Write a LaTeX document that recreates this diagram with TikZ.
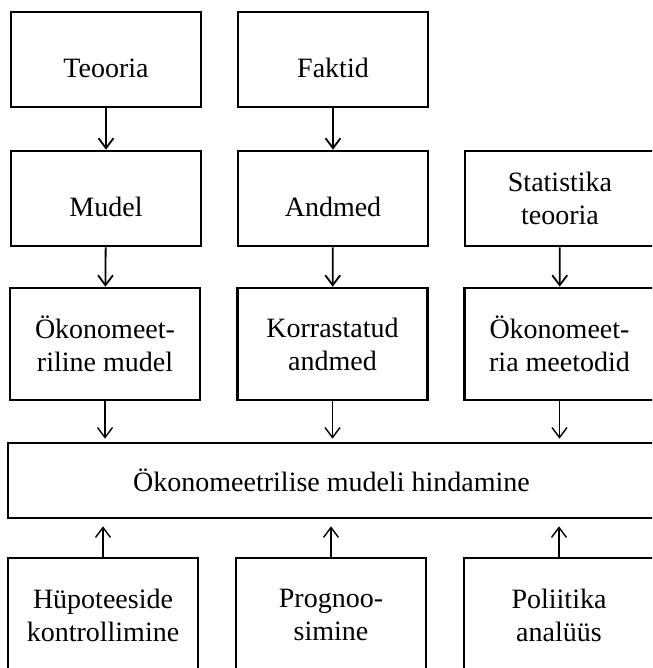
\documentclass[tikz,border=0pt]{standalone}
\usepackage{fontspec}
\setmainfont{Liberation Serif}
\usetikzlibrary{arrows.meta}

\begin{document}
\begin{tikzpicture}[x=0.5pt,y=-0.5pt,
  box/.style={draw,line width=1.3pt,minimum width=95pt,inner sep=0pt,
    align=center,font=\fontsize{14}{16.5}\selectfont},
  lowbox/.style={box,minimum height=47.5pt,text height=18pt,text depth=0pt},
  flow/.style={line width=0.9pt,-{Straight Barb[length=5pt,width=7.5pt]}}]
  \useasboundingbox (0,0) rectangle (652,668);
  \clip (0,0) rectangle (652,668);
  % inputs
  \node[lowbox] (teooria) at (106,59.5) {Teooria};
  \node[lowbox] (faktid) at (333,59.5) {Faktid};
  \node[lowbox] (mudel) at (106,198.5) {Mudel};
  \node[lowbox] (andmed) at (333,198.5) {Andmed};
  \node[box,minimum height=47.5pt] (stat) at (560,198.5) {Statistika\\teooria};
  \node[box,minimum height=56pt] (okmudel) at (105,344) {Ökonomeet-\\riline mudel};
  \node[box,minimum height=56pt] (korr) at (332.5,344) {Korrastatud\\andmed};
  \node[box,minimum height=56pt] (okmeet) at (559.5,344) {Ökonomeet-\\ria meetodid};
  % estimation
  \node[box,minimum width=323.5pt,minimum height=37.5pt] (hind) at (331.5,480.5)
    {Ökonomeetrilise mudeli hindamine};
  % uses
  \node[box,minimum height=57pt] (hyp) at (103,615) {Hüpoteeside\\kontrollimine};
  \node[box,minimum height=57pt] (progn) at (331,615) {Prognoo-\\simine};
  \node[box,minimum height=57pt] (pol) at (559,615) {Poliitika\\analüüs};

  \draw[flow] (teooria) -- (mudel);
  \draw[flow] (faktid) -- (andmed);
  \draw[flow] (mudel) -- (okmudel);
  \draw[flow] (andmed) -- (korr);
  \draw[flow] (stat) -- (okmeet);
  \draw[flow,line width=0.7pt,shorten >=1.5pt] (okmudel.south) -- (okmudel.south |- hind.north);
  \draw[flow,line width=0.7pt,shorten >=1.5pt] (korr.south) -- (korr.south |- hind.north);
  \draw[flow,line width=0.7pt,shorten >=1.5pt] (okmeet.south) -- (okmeet.south |- hind.north);
  \draw[flow,line width=0.7pt,shorten >=3.5pt] (hyp.north) -- (hyp.north |- hind.south);
  \draw[flow,line width=0.7pt,shorten >=3.5pt] (progn.north) -- (progn.north |- hind.south);
  \draw[flow,line width=0.7pt,shorten >=3.5pt] (pol.north) -- (pol.north |- hind.south);
\end{tikzpicture}
\end{document}
